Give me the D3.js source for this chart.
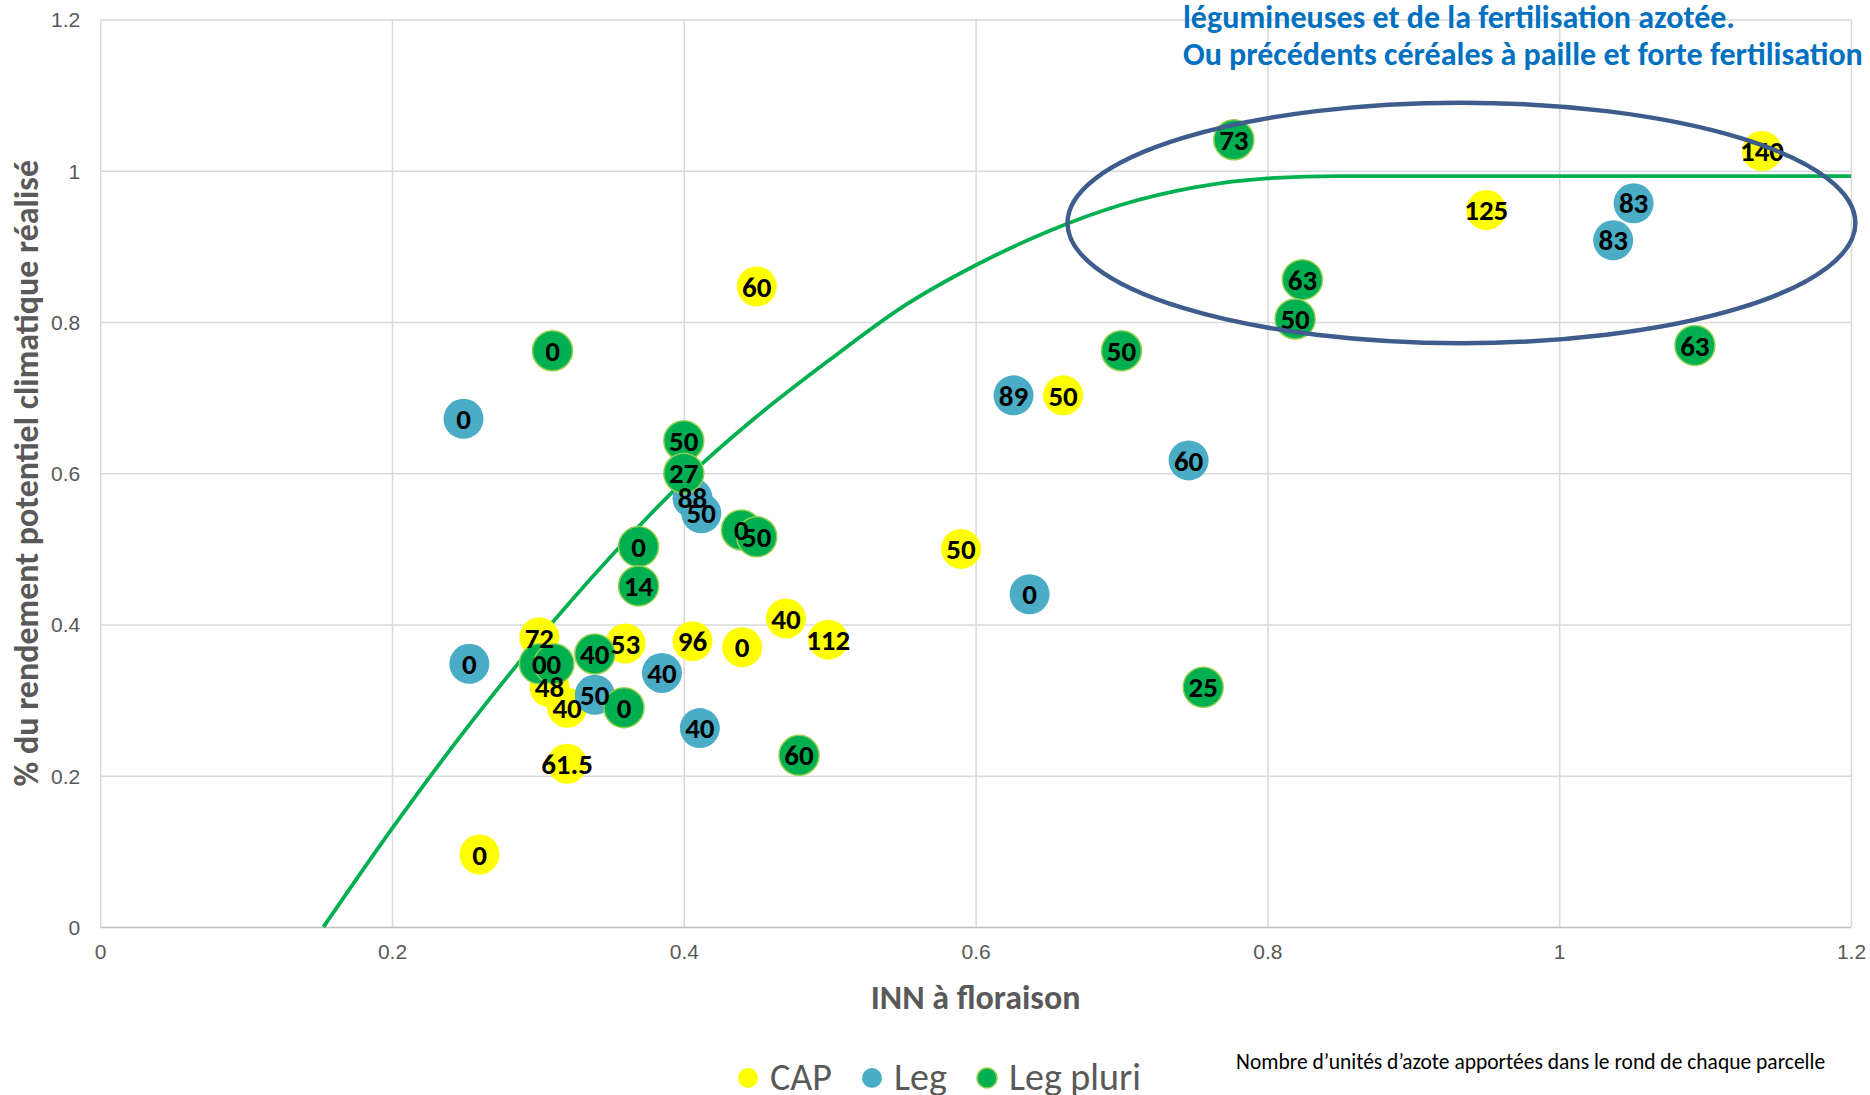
<!DOCTYPE html>
<html>
<head>
<meta charset="utf-8">
<script src="https://cdn.jsdelivr.net/npm/d3@7"></script>
<style>
body { margin: 0; background: #fff; }
svg { display: block; font-family: Carlito, Calibri, "Liberation Sans Narrow", "Open Sans", sans-serif; }
.grid line { stroke: #d9d9d9; stroke-width: 1.5; }
.grid .domain { display: none; }
.tick text { fill: #595959; font-size: 21px; }
.lbl { font-weight: bold; font-size: 29px; fill: #000; text-anchor: middle; }
.title { font-weight: bold; font-size: 34px; fill: #595959; text-anchor: middle; }
</style>
</head>
<body>
<svg width="1870" height="1095"></svg>
<script>
var xTicks = [0, 0.2, 0.4, 0.6, 0.8, 1, 1.2];
var yTicks = [0, 0.2, 0.4, 0.6, 0.8, 1, 1.2];

// CAP (yellow)
var capX = [0.26, 0.32, 0.32, 0.308, 0.301, 0.36, 0.406, 0.44, 0.47, 0.499, 0.59, 0.66, 0.45, 0.95, 1.139];
var capY = [0.096, 0.216, 0.29, 0.317, 0.383, 0.375, 0.378, 0.37, 0.408, 0.38, 0.5, 0.703, 0.847, 0.948, 1.026];
var capN = ["0", "61.5", "40", "48", "72", "53", "96", "0", "40", "112", "50", "50", "60", "125", "140"];

// Leg (blue)
var legX = [0.249, 0.253, 0.339, 0.385, 0.411, 0.406, 0.412, 0.626, 0.637, 0.746, 1.037, 1.051];
var legY = [0.672, 0.348, 0.307, 0.336, 0.263, 0.567, 0.547, 0.703, 0.44, 0.617, 0.908, 0.957];
var legN = ["0", "0", "50", "40", "40", "88", "50", "89", "0", "60", "83", "83"];

// Leg pluri (green)
var plurX = [0.31, 0.4, 0.4, 0.369, 0.369, 0.4395, 0.45, 0.301, 0.311, 0.339, 0.359, 0.479, 0.756, 0.7, 0.777, 0.824, 0.819, 1.093];
var plurY = [0.762, 0.643, 0.6, 0.503, 0.451, 0.525, 0.516, 0.348, 0.348, 0.361, 0.29, 0.227, 0.317, 0.762, 1.041, 0.856, 0.804, 0.769];
var plurN = ["0", "50", "27", "0", "14", "0", "50", "0", "0", "40", "0", "60", "25", "50", "73", "63", "50", "63"];

// green response curve
var curveX = [0.153, 0.2, 0.25, 0.3, 0.35, 0.4, 0.45, 0.5, 0.55, 0.6, 0.65, 0.7, 0.75, 0.8, 0.85, 0.9, 1.0, 1.1, 1.2];
var curveY = [0, 0.13, 0.26, 0.38, 0.49, 0.59, 0.675, 0.75, 0.82, 0.875, 0.92, 0.955, 0.978, 0.99, 0.993, 0.993, 0.993, 0.993, 0.993];

// circled zone: centre and radii in data units
var zoneC = [0.933, 0.931];
var zoneR = [0.270, 0.159];

var noteLines = ["légumineuses et de la fertilisation azotée.",
                 "Ou précédents céréales à paille et forte fertilisation"];

var series = [
  {name: "CAP", xs: capX, ys: capY, ns: capN, fill: "#ffff00", stroke: "none"},
  {name: "Leg", xs: legX, ys: legY, ns: legN, fill: "#4bacc6", stroke: "none"},
  {name: "Leg pluri", xs: plurX, ys: plurY, ns: plurN, fill: "#00b050", stroke: "#92d050"}
];

var svg = d3.select("svg");
var m = {left: 100.2, right: 1851, top: 19.5, bottom: 927};

var x = d3.scaleLinear().domain([0, 1.2]).range([m.left, m.right]);
var y = d3.scaleLinear().domain([0, 1.2]).range([m.bottom, m.top]);

var g = {
  grid: svg.append("g"),
  curve: svg.append("g"),
  marks: svg.append("g"),
  labels: svg.append("g"),
  notes: svg.append("g"),
  legend: svg.append("g")
};

// gridlines + tick labels
var xg = g.grid.append("g")
  .attr("class", "grid")
  .attr("transform", "translate(0," + m.bottom + ")")
  .call(d3.axisBottom(x).tickValues(xTicks).tickSize(-(m.bottom - m.top)).tickPadding(17).tickFormat(d3.format("")));

var yg = g.grid.append("g")
  .attr("class", "grid")
  .attr("transform", "translate(" + m.left + ",0)")
  .call(d3.axisLeft(y).tickValues(yTicks).tickSize(-(m.right - m.left)).tickPadding(20).tickFormat(d3.format("")));

yg.selectAll(".tick line")
  .style("stroke", function(d) { return d === 0 ? "#bfbfbf" : null; });
yg.selectAll(".tick text").attr("dy", "0.35em");

// response curve
var pts = curveX.map(function(d, i) { return [d, curveY[i]]; });
g.curve.append("path")
  .datum(pts)
  .attr("fill", "none")
  .attr("stroke", "#00b050")
  .attr("stroke-width", 3.8)
  .attr("d", d3.line().x(function(d) { return x(d[0]); }).y(function(d) { return y(d[1]); }).curve(d3.curveMonotoneX));

// markers first, all labels on top
series.forEach(function(s) {
  var rows = s.xs.map(function(d, i) { return {x: d, y: s.ys[i], n: s.ns[i]}; });
  g.marks.selectAll(null)
    .data(rows)
    .enter()
    .append("circle")
    .attr("cx", function(d) { return x(d.x); })
    .attr("cy", function(d) { return y(d.y); })
    .attr("r", 20)
    .attr("fill", s.fill)
    .attr("stroke", s.stroke)
    .attr("stroke-width", 1.5);
  g.labels.selectAll(null)
    .data(rows)
    .enter()
    .append("text")
    .attr("class", "lbl")
    .attr("x", function(d) { return x(d.x); })
    .attr("y", function(d) { return y(d.y); })
    .attr("dy", "0.35em")
    .text(function(d) { return d.n; });
});

// circled zone and note
g.notes.append("ellipse")
  .attr("cx", x(zoneC[0]))
  .attr("cy", y(zoneC[1]))
  .attr("rx", x(zoneR[0]) - x(0))
  .attr("ry", y(0) - y(zoneR[1]))
  .attr("fill", "none")
  .attr("stroke", "#3e5c8c")
  .attr("stroke-width", 4.5);

g.notes.selectAll("text.note")
  .data(noteLines)
  .enter()
  .append("text")
  .attr("class", "note")
  .attr("x", 1183)
  .attr("y", function(d, i) { return 28 + i * 37; })
  .style("font-weight", "bold")
  .style("font-size", "32px")
  .style("fill", "#0070c0")
  .text(function(d) { return d; });

// axis titles
svg.append("text")
  .attr("class", "title")
  .attr("x", (m.left + m.right) / 2)
  .attr("y", 1009)
  .text("INN à floraison");

svg.append("text")
  .attr("class", "title")
  .attr("transform", "translate(26," + (m.top + m.bottom) / 2 + ") rotate(-90)")
  .attr("dominant-baseline", "central")
  .text("% du rendement potentiel climatique réalisé");

svg.append("text")
  .attr("x", 1236)
  .attr("y", 1069)
  .style("font-size", "21.5px")
  .style("fill", "#000")
  .text("Nombre d’unités d’azote apportées dans le rond de chaque parcelle");

// legend
var legendX = [748, 872, 987];
var item = g.legend.selectAll("g")
  .data(series)
  .enter()
  .append("g")
  .attr("transform", function(d, i) { return "translate(" + legendX[i] + ",1078)"; });

item.append("circle")
  .attr("r", 10)
  .attr("fill", function(d) { return d.fill; })
  .attr("stroke", function(d) { return d.stroke; })
  .attr("stroke-width", 1.5);

item.append("text")
  .attr("x", 22)
  .attr("y", 12)
  .style("font-size", "38px")
  .style("fill", "#595959")
  .text(function(d) { return d.name; });
</script>
</body>
</html>
